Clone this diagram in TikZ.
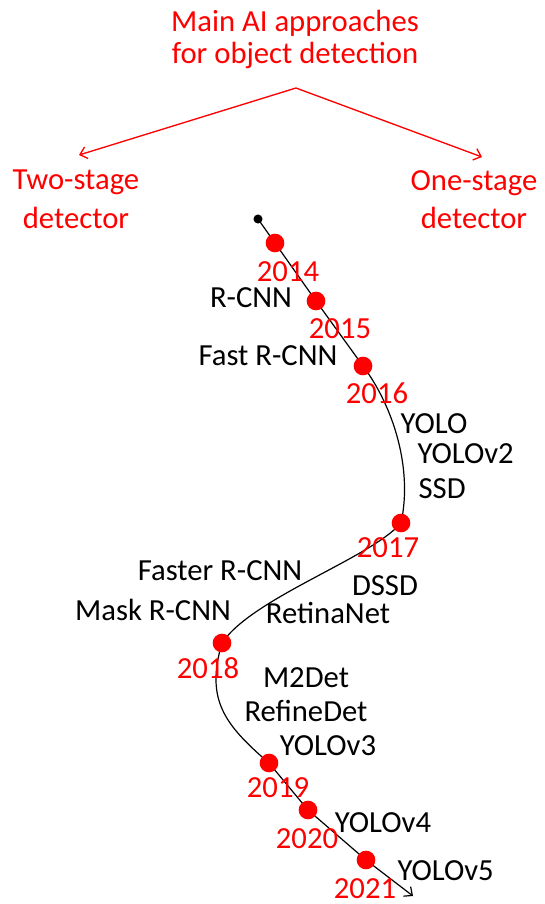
\documentclass[tikz,border=0pt]{standalone}
\usepackage{fontspec}
\setmainfont{Carlito}
\usepackage{tikz}
\usetikzlibrary{arrows.meta}

\begin{document}
\begin{tikzpicture}[x=0.75pt, y=-0.75pt,
    >={Straight Barb[length=5pt,width=9pt]},
    every node/.style={font=\fontsize{23}{24}\selectfont},
    head/.style={text=red, align=center, inner sep=0pt, anchor=north},
    yr/.style={text=red, anchor=base, inner sep=0pt},
    mdl/.style={anchor=base, inner sep=1pt}]
     \useasboundingbox (0,0) rectangle (544,904);
     % headings
     \node[head] (title) at (295,10) {Main AI approaches\\for object detection};
     \node[head, font=\fontsize{23}{29}\selectfont] (two) at (76,170) {Two-stage\\detector};
     \node[head, font=\fontsize{23}{29}\selectfont] (one) at (474,170) {One-stage\\detector};
     \coordinate (apex) at (296,88);
     \coordinate (twoend) at (79,155);
     \coordinate (oneend) at (482,157);
     \draw[red, line width=1pt, ->] (apex) -- (twoend);
     \draw[red, line width=1pt, ->] (apex) -- (oneend);
     % timeline
     \coordinate (st) at (258,219);
     \coordinate (c2014) at (275,243);
     \coordinate (c2015) at (316,301);
     \coordinate (c2016) at (363,366);
     \coordinate (c2017) at (401,523);
     \coordinate (c2018) at (222,643);
     \coordinate (c2019) at (269,763);
     \coordinate (c2020) at (308,810);
     \coordinate (c2021) at (366,860);
     \coordinate (fin) at (413,896);
     \draw[line width=0.9pt, ->] (st) -- (c2014) -- (c2015) -- (c2016)
          .. controls +(30,40) and +(12,-55) .. (c2017)
          .. controls +(-30,35) and +(30,-45) .. (c2018)
          .. controls +(-17,57) and +(-44,-38) .. (c2019)
          -- (c2020) -- (c2021) -- (fin);
     \fill[black] (st) circle (3.4pt);
     \foreach \yr in {2014,...,2021}
          \fill[red] (c\yr) circle (7pt);
     % years
     \node[yr] (y2014) at (288,281) {2014};
     \node[yr] (y2015) at (340,338) {2015};
     \node[yr] (y2016) at (377,403) {2016};
     \node[yr] (y2017) at (388,557) {2017};
     \node[yr] (y2018) at (208,678) {2018};
     \node[yr] (y2019) at (278,797) {2019};
     \node[yr] (y2020) at (307,848) {2020};
     \node[yr] (y2021) at (365,898) {2021};
     % detectors
     \node[mdl] (rcnn) at (251,307) {R-CNN};
     \node[mdl] (fast) at (268,365) {Fast R-CNN};
     \node[mdl, anchor=base west] (yolo) at (399,433) {YOLO};
     \node[mdl, anchor=base west] (yolo2) at (416,463) {YOLOv2};
     \node[mdl, anchor=base west] (ssd) at (417,498) {SSD};
     \node[mdl] (faster) at (220,580) {Faster R-CNN};
     \node[mdl] (dssd) at (385,595) {DSSD};
     \node[mdl] (mask) at (153,620) {Mask R-CNN};
     \node[mdl] (retina) at (328,623) {RetinaNet};
     \node[mdl] (m2det) at (306,687) {M2Det};
     \node[mdl] (refine) at (306,721) {RefineDet};
     \node[mdl] (yolo3) at (328,755) {YOLOv3};
     \node[mdl] (yolo4) at (383,832) {YOLOv4};
     \node[mdl, anchor=base west] (yolo5) at (396,880) {YOLOv5};
\end{tikzpicture}
\end{document}
